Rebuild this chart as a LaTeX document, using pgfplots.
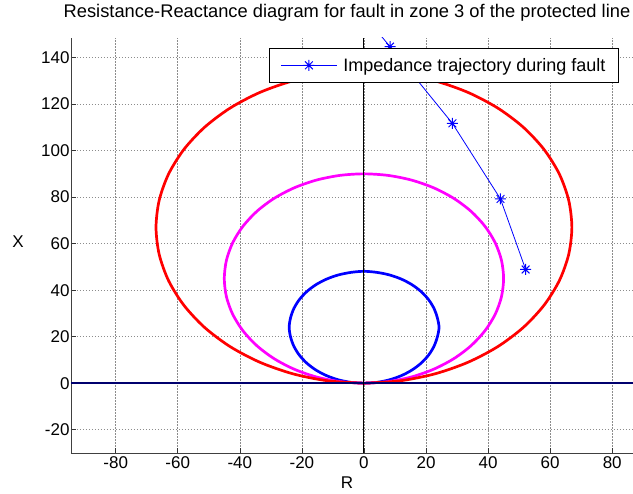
\documentclass[border=0pt]{standalone}
\usepackage{pgfplots}
\pgfplotsset{compat=1.18}
\usepackage{fontspec}
\setmainfont{Liberation Sans}
\definecolor{navyline}{RGB}{0,0,110}
\definecolor{mag}{RGB}{255,0,255}
\definecolor{bl}{RGB}{0,0,255}
\definecolor{rd}{RGB}{255,0,0}
\pgfdeclareplotmark{ast8}{%
  \pgfpathmoveto{\pgfqpoint{-\pgfplotmarksize}{0pt}}\pgfpathlineto{\pgfqpoint{\pgfplotmarksize}{0pt}}%
  \pgfpathmoveto{\pgfqpoint{0pt}{-\pgfplotmarksize}}\pgfpathlineto{\pgfqpoint{0pt}{\pgfplotmarksize}}%
  \pgfpathmoveto{\pgfqpoint{-.707\pgfplotmarksize}{-.707\pgfplotmarksize}}\pgfpathlineto{\pgfqpoint{.707\pgfplotmarksize}{.707\pgfplotmarksize}}%
  \pgfpathmoveto{\pgfqpoint{-.707\pgfplotmarksize}{.707\pgfplotmarksize}}\pgfpathlineto{\pgfqpoint{.707\pgfplotmarksize}{-.707\pgfplotmarksize}}%
  \pgfusepathqstroke}
\begin{document}
\begin{tikzpicture}
\begin{axis}[name=ax, scale only axis, width=562pt, height=415pt,
  xmin=-94.4, xmax=86.7, ymin=-30, ymax=148.4,
  axis x line*=bottom, axis y line*=left,
  axis line style={-, line width=0.8pt, black!75},
  xtick={-80,-60,...,80}, ytick={-20,0,...,140},
  tick align=inside, major tick length=5pt,
  tick style={black!80, line width=0.6pt},
  grid=major, grid style={gray!90, dash pattern=on 1.5pt off 1.5pt, line width=0.6pt},
  tick label style={font=\fontsize{17}{20}\selectfont},
  yticklabel style={xshift=2pt},
  /pgf/number format/assume math mode=true,
  xlabel={R}, ylabel={X},
  label style={font=\fontsize{17}{20}\selectfont},
  xlabel style={at={(axis description cs:0.491,0)}, anchor=base, yshift=-36pt},
  ylabel style={at={(axis description cs:-0.0943,0.51)}, anchor=center, rotate=-90},
  title={Resistance-Reactance diagram for fault in zone 3 of the protected line},
  title style={font=\fontsize{18.3}{22}\selectfont, at={(axis description cs:0.5,1)}, anchor=base, yshift=14pt, xshift=-5pt},
  legend style={at={(axis description cs:1,1)}, anchor=north east, xshift=-14pt, yshift=-10pt,
    draw=black, line width=1pt, fill=white, font=\fontsize{18}{21}\selectfont,
    inner xsep=11pt, inner ysep=7.5pt, column sep=4pt, cells={anchor=west}},
  legend image code/.code={\draw[mark repeat=2, mark phase=2] plot coordinates {(0pt,0pt) (28pt,0pt) (56pt,0pt)};},
]
% blue circle (zone 1)
\addplot[forget plot, bl, line width=2.7pt, smooth] coordinates {
(0,0) (4.17,0.36) (8.21,1.45) (12.0,3.22) (15.43,5.62) (18.38,8.57) (20.78,12.0) (22.55,15.79) (23.64,19.83) (24.2,24)
(23.64,28.17) (22.55,32.21) (20.78,36.0) (18.38,39.43) (15.43,42.38) (12.0,44.78) (8.21,46.55) (4.17,47.64) (0,48.1)
(-4.17,47.64) (-8.21,46.55) (-12.0,44.78) (-15.43,42.38) (-18.38,39.43) (-20.78,36.0) (-22.55,32.21) (-23.64,28.17) (-24.1,24)
(-23.64,19.83) (-22.55,15.79) (-20.78,12.0) (-18.38,8.57) (-15.43,5.62) (-12.0,3.22) (-8.21,1.45) (-4.17,0.36) (0,0)};
% magenta circle (zone 2)
\addplot[forget plot, mag, line width=2.7pt, smooth] coordinates {
(0,0) (7.81,0.68) (15.39,2.71) (22.5,6.03) (28.93,10.53) (34.47,16.07) (38.97,22.5) (42.29,29.61) (44.32,37.19) (45,45)
(44.32,52.81) (42.29,60.39) (38.97,67.5) (34.47,73.93) (28.93,79.47) (22.5,83.97) (15.39,87.29) (7.81,89.32) (0,90)
(-7.81,89.32) (-15.39,87.29) (-22.5,83.97) (-28.93,79.47) (-34.47,73.93) (-38.97,67.5) (-42.29,60.39) (-44.32,52.81) (-45,45)
(-44.32,37.19) (-42.29,29.61) (-38.97,22.5) (-34.47,16.07) (-28.93,10.53) (-22.5,6.03) (-15.39,2.71) (-7.81,0.68) (0,0)};
% red circle (zone 3)
\addplot[forget plot, rd, line width=2.7pt, smooth] coordinates {
(0,0) (11.63,1.02) (22.91,4.04) (33.5,8.98) (43.07,15.68) (51.32,23.93) (58.02,33.5) (62.96,44.09) (65.98,55.37) (67,67)
(65.98,78.63) (62.96,89.91) (58.02,100.5) (51.32,110.07) (43.07,118.32) (33.5,125.02) (22.91,129.96) (11.63,132.98) (0,134)
(-11.63,132.98) (-22.91,129.96) (-33.5,125.02) (-43.07,118.32) (-51.32,110.07) (-58.02,100.5) (-62.96,89.91) (-65.98,78.63) (-67,67)
(-65.98,55.37) (-62.96,44.09) (-58.02,33.5) (-51.32,23.93) (-43.07,15.68) (-33.5,8.98) (-22.91,4.04) (-11.63,1.02) (0,0)};
% impedance trajectory
\addplot[bl, line width=0.8pt, mark=ast8, mark size=5.5pt, mark options={line width=1pt}] coordinates {
(52.1,48.9) (44.0,79.2) (28.5,111.7) (8.4,144.7) (-12.5,178)};
\addlegendentry{Impedance trajectory during fault}
% axes through the origin
\addplot[forget plot, navyline, line width=1.8pt] coordinates {(-94.4,0) (86.7,0)};
\addplot[forget plot, black, line width=1.1pt] coordinates {(0,-30) (0,148.4)};
\end{axis}
\pgfresetboundingbox
\path ([xshift=-71pt,yshift=-41pt]ax.south west) rectangle ([yshift=38pt]ax.north east);
\end{tikzpicture}
\end{document}
